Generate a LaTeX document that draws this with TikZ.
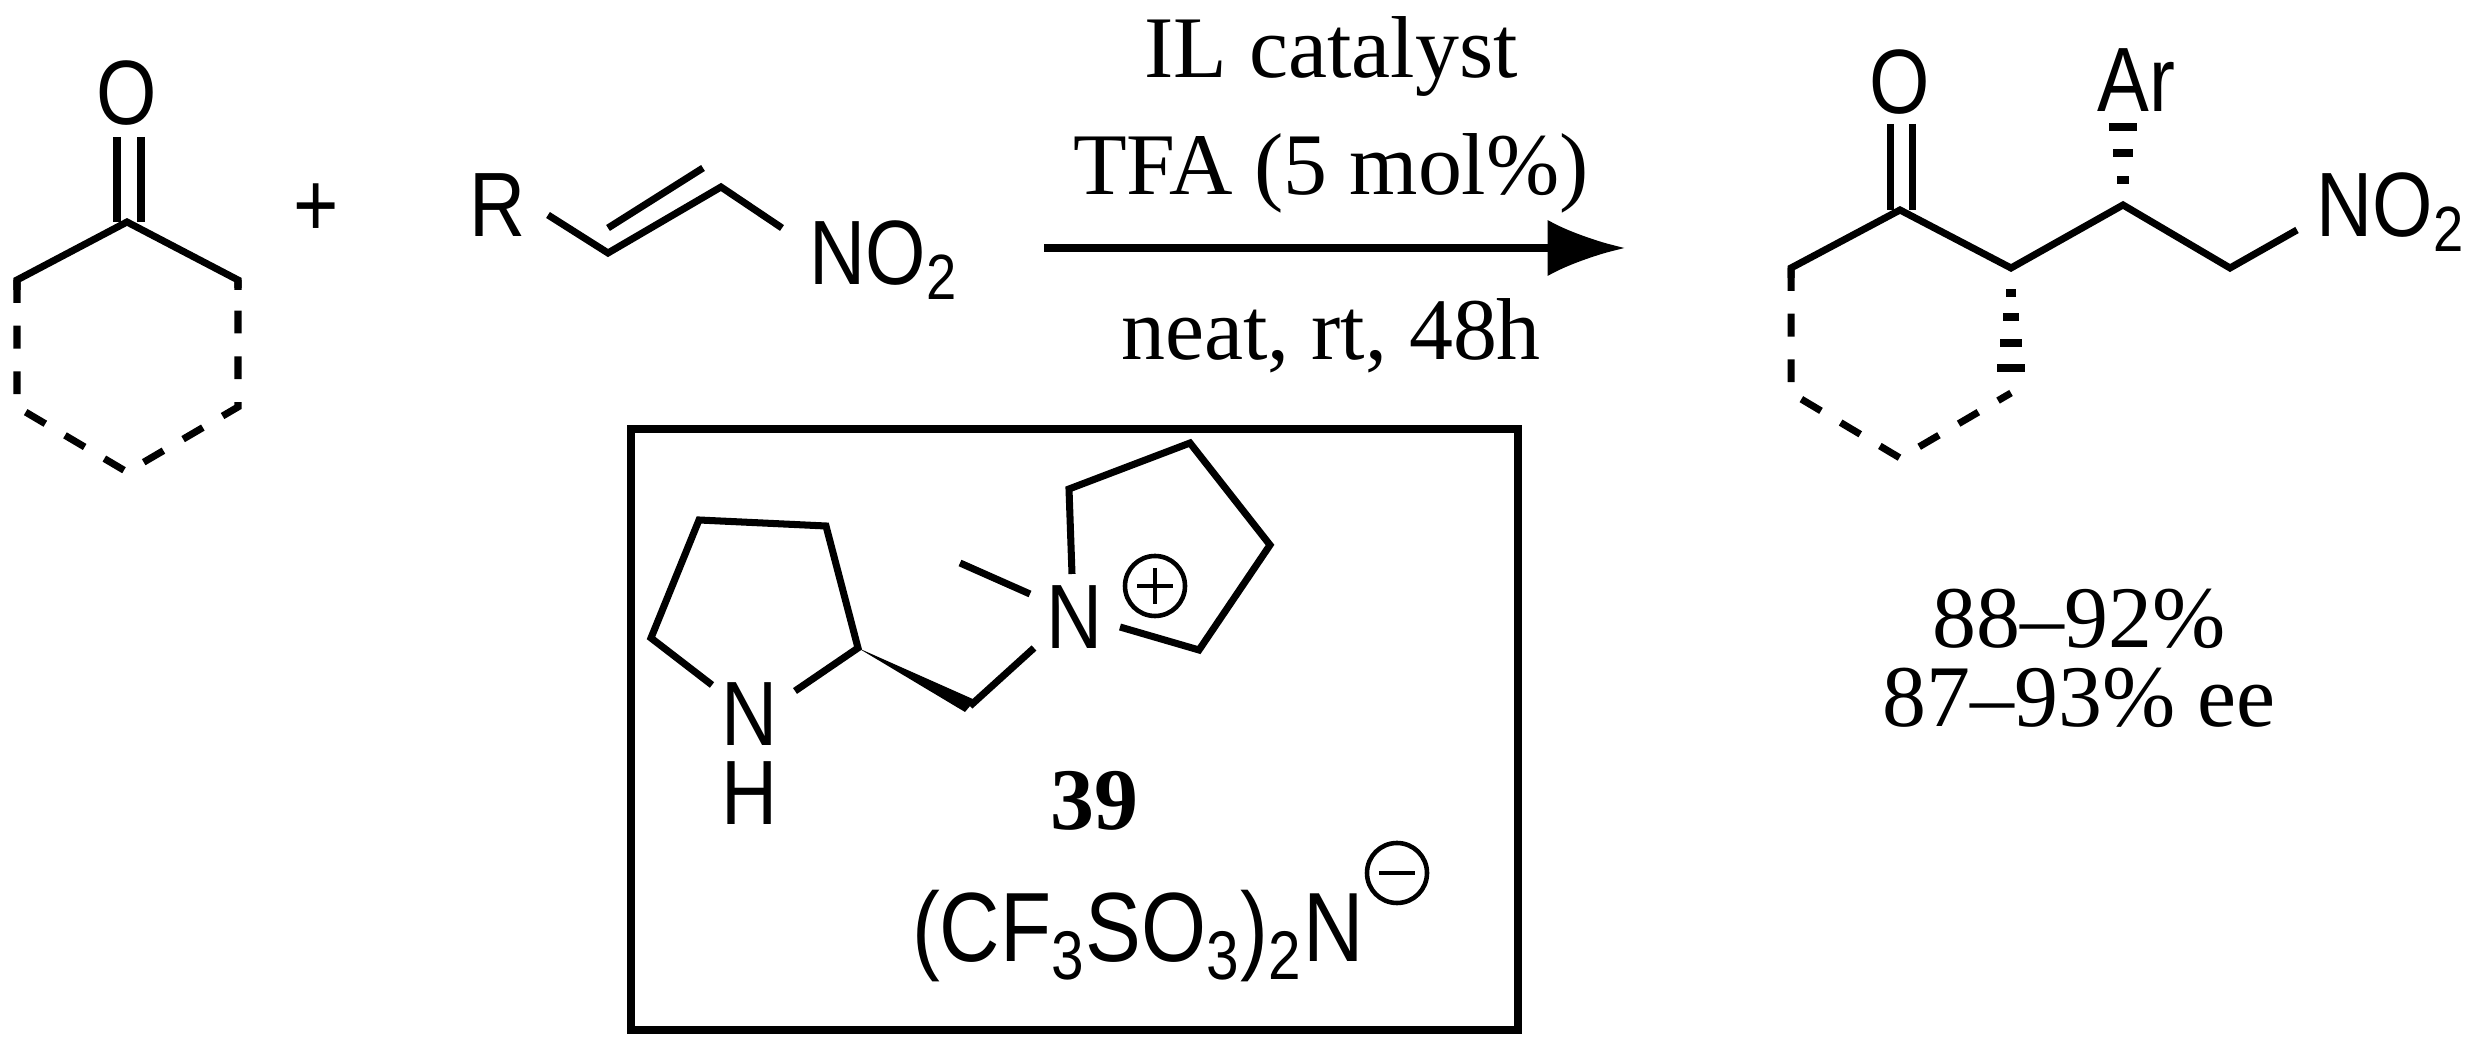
\documentclass[tikz,border=0pt]{standalone}
\usepackage{fontspec}
\setmainfont{Liberation Serif}
\newfontfamily\chemfont[FakeStretch=0.85]{Liberation Sans}
\usetikzlibrary{arrows.meta}
\begin{document}
\begin{tikzpicture}[x=0.1mm,y=-0.1mm,line width=2pt,
  bd/.style={line width=2pt,line join=miter},
  dsh/.style={line width=2pt,dash pattern=on 6.5pt off 6.5pt},
  atm/.style={font=\chemfont\fontsize{26}{30}\selectfont,inner sep=0},
  rt/.style={font=\fontsize{25}{30}\selectfont,inner sep=0}]
\useasboundingbox (0,0) rectangle (2489,1045);
% cyclohexanone
\node[atm] (o1) at (127,93) {O};
\draw[bd] (117,137) -- (117,222) (141,137) -- (141,222);
\draw[bd] (17,290) -- (17,280) -- (127,222) -- (238,280) -- (238,290);
\draw[dsh] (17,280) -- (17,407) -- (127,472) -- (238,407) -- (238,280);
\node[atm] (plus) at (316,210) {+};
% nitroalkene
\node[atm,anchor=base] (r) at (498,237) {R};
\draw[bd] (548,215) -- (608,253) -- (721,187) -- (782,228);
\draw[bd] (608,228) -- (703,168);
\node[atm,anchor=base west] (no2a) at (806,285) {NO\textsubscript{2}};
% arrow
\coordinate (a1) at (1044,248); \coordinate (a2) at (1625,248);
\draw[line width=2.2pt,-{Latex[length=22pt,width=16pt]}] (a1) -- (a2);
\node[rt,anchor=base] (c1) at (1331,78) {IL catalyst};
\node[rt,anchor=base] (c2) at (1331,195) {TFA (5 mol\%)};
\node[rt,anchor=base] (c3) at (1331,360) {neat, rt, 48h};
% catalyst box
\draw[line width=2.3pt] (631,429) rectangle (1518,1030);
\draw[bd] (712,685) -- (651,638) -- (699,520) -- (826,526) -- (858,648) -- (795,691);
\node[atm] (nh) at (750,714) {N};
\node[atm] (h) at (750,793) {H};
\fill (858,648) -- (975,700) -- (965,712) -- cycle;
\draw[bd] (970,706) -- (1034,648);
\node[atm] (np) at (1075,617) {N};
\draw[bd] (960,563) -- (1030,594);
\draw[bd] (1072,574) -- (1069,489) -- (1190,443) -- (1270,545) -- (1199,650) -- (1120,627);
\draw[line width=1.3pt] (1155,586) circle (30);
\draw[line width=1.3pt] (1137,586) -- (1173,586) (1155,568) -- (1155,604);
\node[rt,font=\bfseries\fontsize{25}{30}\selectfont] (n39) at (1094,801) {39};
\node[atm,font=\chemfont\fontsize{28}{32}\selectfont,anchor=base east] (anion) at (1367,962) {(CF\textsubscript{3}SO\textsubscript{3})\textsubscript{2}N};
\draw[line width=1.3pt] (1397,873) circle (30);
\draw[line width=1.3pt] (1379,873) -- (1415,873);
% product
\node[atm] (o2) at (1900,82) {O};
\draw[bd] (1890,124) -- (1890,210) (1912,124) -- (1912,210);
\draw[bd] (1791,278) -- (1791,268) -- (1900,210) -- (2011,268) -- (2123,205) -- (2230,268) -- (2297,230);
\draw[dsh] (1791,268) -- (1791,393) -- (1900,458) -- (2011,393);
\foreach \y/\w in {293/5,317/8,343/11,368/14} \draw[line width=2.4pt] (2011-\w,\y) -- (2011+\w,\y);
\foreach \y/\w in {127/14,153/10,180/6} \draw[line width=2.4pt] (2123-\w,\y) -- (2123+\w,\y);
\node[atm,anchor=base] (ar) at (2136,112) {Ar};
\node[atm,anchor=base west] (no2b) at (2313,237) {NO\textsubscript{2}};
\node[rt] (y1) at (2079,619) {88–92\%};
\node[rt] (y2) at (2079,698) {87–93\% ee};
\end{tikzpicture}
\end{document}
